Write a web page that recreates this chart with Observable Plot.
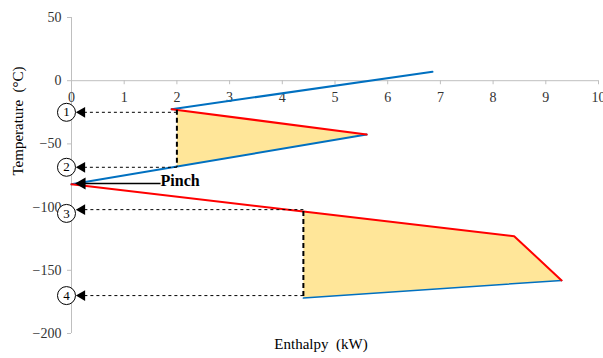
<!DOCTYPE html>
<html><head><meta charset="utf-8">
<script src="https://cdn.jsdelivr.net/npm/d3@7"></script>
<script src="https://cdn.jsdelivr.net/npm/@observablehq/plot@0.6"></script>
<style>body{margin:0;background:#fff} svg text{font-family:"Liberation Serif",serif}</style>
</head><body><div id="chart"></div>
<script>
const xTicks = [0,1,2,3,4,5,6,7,8,9,10];
const yTicks = [50,0,-50,-100,-150,-200];
// Cold (blue) streams
const coldTop = [{e:1.9,t:-22.5},{e:6.85,t:7}];
const coldMid = [{e:0,t:-82},{e:5.6,t:-42.6}];
const coldLow = [{e:4.4,t:-172},{e:9.3,t:-158}];
// Hot (red) streams
const hotTop = [{e:1.9,t:-22.5},{e:5.6,t:-42.6}];
const hotLow = [{e:0,t:-82},{e:4.4,t:-103.5},{e:8.4,t:-123},{e:9.3,t:-158}];
// Shaded regions
const region1 = [{e:2,t:-23},{e:5.6,t:-42.6},{e:2,t:-68}];
const region2 = [{e:4.4,t:-103.5},{e:8.4,t:-123},{e:9.3,t:-158},{e:4.4,t:-172}];
// Dashed verticals
const verticals = [{e:2,t1:-23,t2:-68},{e:4.4,t1:-103,t2:-171}];
// Numbered arrows
const labels = ["1","2","3","4"];
const arrowT = [-25,-68.5,-102,-170];
const arrowFromE = [2,2,4.4,4.4];
const circleT = [-25,-68.5,-105,-170];
const arrowTipE = 0.2;
const circleE = -0.095;
// Pinch
const pinch = {e1:1.69, e2:0.2, t:-81.3, label:"Pinch"};

const arrows = labels.map((l,i)=>({label:l, t:arrowT[i], from:arrowFromE[i], ct:circleT[i]}));

const blue = "#0070C0", red = "#FF0000", fillC = "#FFE699", axisC = "#BFBFBF";
const serif = "'Liberation Serif', serif";

const chart = Plot.plot({
  width: 603, height: 358,
  marginLeft: 71, marginRight: 5, marginTop: 17, marginBottom: 25,
  x: {domain:[0,10], axis: null},
  y: {domain:[-200,50], axis: null},
  style: {fontFamily: serif, fontSize:"14px", color:"#222", background:"#fff"},
  marks: [
    Plot.ruleX([0], {stroke: axisC}),
    Plot.ruleY([0], {stroke: axisC}),
    Plot.axisY({ticks: yTicks, tickSize: 4, tickPadding: 6, stroke: axisC, fill:"#333", label: null, fontSize: 14, fontFamily: serif}),
    Plot.ruleX(xTicks, {x: d=>d, y1: 0, y2: -3.2, stroke: axisC}),
    Plot.text(xTicks, {x: d=>d, y: 0, dy: 17, text: d=>String(d), fill:"#333", fontSize: 14, fontFamily: serif}),
    Plot.line(region1, {x:"e", y:"t", fill: fillC, stroke: "none"}),
    Plot.line(region2, {x:"e", y:"t", fill: fillC, stroke: "none"}),
    Plot.line(coldTop, {x:"e", y:"t", stroke: blue, strokeWidth: 2}),
    Plot.line(coldMid, {x:"e", y:"t", stroke: blue, strokeWidth: 2}),
    Plot.line(coldLow, {x:"e", y:"t", stroke: blue, strokeWidth: 1.5}),
    Plot.line(hotTop, {x:"e", y:"t", stroke: red, strokeWidth: 2}),
    Plot.line(hotLow, {x:"e", y:"t", stroke: red, strokeWidth: 2}),
    Plot.link(verticals, {x1:"e", x2:"e", y1:"t1", y2:"t2", stroke:"#000", strokeWidth: 2, strokeDasharray:"5,3"}),
    Plot.link(arrows, {x1:"from", x2: arrowTipE, y1:"t", y2:"t", stroke:"#000", strokeWidth: 1, strokeDasharray:"3,3"}),
    Plot.dot(arrows, {x: arrowTipE, y:"t", symbol:"triangle", r: 4, fill:"#000", stroke:"none", rotate: -90}),
    Plot.dot(arrows, {x: circleE, y:"ct", r: 9, fill:"#fff", stroke:"#000", strokeWidth: 1}),
    Plot.text(arrows, {x: circleE, y:"ct", text:"label", fontFamily:"'Liberation Sans', sans-serif", fontSize: 13, fill:"#000"}),
    Plot.link([pinch], {x1:"e1", x2:"e2", y1:"t", y2:"t", stroke:"#000", strokeWidth: 1.5}),
    Plot.dot([pinch], {x:"e2", y:"t", symbol:"triangle", r: 4.5, fill:"#000", stroke:"none", rotate: -90}),
    Plot.text([pinch], {x:"e1", y:"t", dy:-3, text:"label", textAnchor:"start", fontWeight:"bold", fontSize: 16, fill:"#000", fontFamily: serif}),
    Plot.text(["Temperature  (°C)"], {frameAnchor:"left", dx:-53, rotate:-90, text:d=>d, fontSize: 15, fill:"#000", fontFamily: serif}),
    Plot.text(["Enthalpy  (kW)"], {frameAnchor:"bottom", dx:-14, dy:15, text:d=>d, fontSize: 15, fill:"#000", fontFamily: serif})
  ]
});
document.getElementById("chart").appendChild(chart);
</script>
</body></html>
